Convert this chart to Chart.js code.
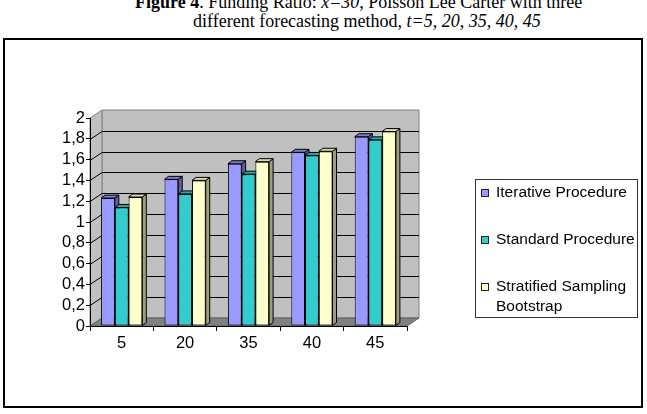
<!DOCTYPE html>
<html>
<head>
<meta charset="utf-8">
<script src="https://cdn.jsdelivr.net/npm/chart.js@4"></script>
<style>
  html, body { margin: 0; padding: 0; background: #fff; }
  body { width: 647px; height: 414px; position: relative; overflow: hidden; }
  .title { position: absolute; white-space: nowrap; font-family: "Liberation Serif", "Times New Roman", serif; font-size: 18px; line-height: 18px; color: #000; }
  .frame { position: absolute; left: 3px; top: 38px; width: 636px; height: 366px; border: 2px solid #000; background: #fff; }
  canvas { position: absolute; left: 0; top: 0; }
</style>
</head>
<body>
<div class="title" style="left:135px; top:-7px;"><b>Figure 4</b>. Funding Ratio: <i>x=30</i>, Poisson Lee Carter with three</div>
<div class="title" style="left:193px; top:12px;">different forecasting method, <i>t=5, 20, 35, 40, 45</i></div>
<div class="frame"></div>
<canvas class="js-chart" width="647" height="414"></canvas>
<script>
const ctx = document.querySelector(".js-chart").getContext("2d");

const horizons = ["5", "20", "35", "40", "45"];
const iterative = [1.23, 1.41, 1.56, 1.67, 1.82];
const standard = [1.14, 1.27, 1.46, 1.64, 1.79];
const stratified = [1.24, 1.40, 1.58, 1.68, 1.87];
const yTickLabels = ["0", "0,2", "0,4", "0,6", "0,8", "1", "1,2", "1,4", "1,6", "1,8", "2"];
const seriesNames = [["Iterative Procedure"], ["Standard Procedure"], ["Stratified Sampling", "Bootstrap"]];

const FONT = "'Liberation Sans', Arial, sans-serif";
const WALL_DX = 12;
const WALL_DY = -8;
const BAR_DX = 4;
const BAR_DY = -3;

// front / side / top colours for each series
const faces = [
  { front: "#9999ff", side: "#60609e", top: "#7b7bd0" },
  { front: "#33cccc", side: "#1f8a8a", top: "#29a8a8" },
  { front: "#ffffcc", side: "#9e9e7a", top: "#d8d8aa" },
];

function poly(c, pts, fill, stroke) {
  c.beginPath();
  c.moveTo(pts[0][0], pts[0][1]);
  for (let i = 1; i < pts.length; i++) c.lineTo(pts[i][0], pts[i][1]);
  c.closePath();
  if (fill) { c.fillStyle = fill; c.fill(); }
  if (stroke) { c.strokeStyle = stroke; c.lineWidth = 1; c.stroke(); }
}

const wallsPlugin = {
  id: "walls",
  beforeDraw(chart) {
    const c = chart.ctx;
    const { left: L, right: R, top: T, bottom: B } = chart.chartArea;
    const y = chart.scales.y;
    c.save();
    poly(c, [[L + WALL_DX, T + WALL_DY], [R + WALL_DX, T + WALL_DY], [R + WALL_DX, B + WALL_DY], [L + WALL_DX, B + WALL_DY]], "#c0c0c0", "#808080");
    poly(c, [[L, T], [L + WALL_DX, T + WALL_DY], [L + WALL_DX, B + WALL_DY], [L, B]], "#c0c0c0", "#808080");
    poly(c, [[L, B], [L + WALL_DX, B + WALL_DY], [R + WALL_DX, B + WALL_DY], [R, B]], "#808080", "#606060");
    c.strokeStyle = "#000";
    c.lineWidth = 1;
    y.ticks.forEach((t) => {
      if (t.value <= 0 || t.value >= 2) return;
      const py = Math.round(y.getPixelForValue(t.value)) + 0.5;
      c.beginPath();
      c.moveTo(L, py);
      c.lineTo(L + WALL_DX, py + WALL_DY);
      c.lineTo(R + WALL_DX, py + WALL_DY);
      c.stroke();
    });
    c.restore();
  },
  beforeDatasetsDraw(chart) {
    // side and top faces of every bar; the front faces are drawn by Chart.js
    const c = chart.ctx;
    c.save();
    const n = chart.data.labels.length;
    for (let i = 0; i < n; i++) {
      chart.data.datasets.forEach((ds, d) => {
        const bar = chart.getDatasetMeta(d).data[i];
        const { x, y, base, width } = bar.getProps(["x", "y", "base", "width"], true);
        const l = x - width / 2;
        const r = x + width / 2;
        poly(c, [[r, y], [r + BAR_DX, y + BAR_DY], [r + BAR_DX, base + BAR_DY], [r, base]], faces[d].side, "#000");
        poly(c, [[l, y], [l + BAR_DX, y + BAR_DY], [r + BAR_DX, y + BAR_DY], [r, y]], faces[d].top, "#000");
      });
    }
    c.restore();
  },
  afterDraw(chart) {
    // legend box
    const c = chart.ctx;
    c.save();
    c.strokeStyle = "#333";
    c.lineWidth = 1;
    c.strokeRect(475.5, 179.5, 162, 138);
    const rows = [193, 240, 287];
    c.font = "15.5px " + FONT;
    c.textBaseline = "middle";
    c.fillStyle = "#000";
    seriesNames.forEach((lines, d) => {
      c.fillStyle = faces[d].front;
      c.fillRect(481, rows[d] - 4, 8, 8);
      c.strokeStyle = "#222";
      c.strokeRect(481.5, rows[d] - 3.5, 7, 7);
      c.fillStyle = "#000";
      lines.forEach((txt, k) => c.fillText(txt, 496, rows[d] + k * 20));
    });
    c.restore();
  },
};

new Chart(ctx, {
  type: "bar",
  data: {
    labels: horizons,
    datasets: [iterative, standard, stratified].map((vals, d) => ({
      label: seriesNames[d].join(" "),
      data: vals,
      backgroundColor: faces[d].front,
      borderColor: "#000",
      borderWidth: 1,
      borderSkipped: false,
      categoryPercentage: 0.65,
      barPercentage: 1.0,
    })),
  },
  options: {
    responsive: false,
    animation: false,
    layout: { padding: { left: 50, top: 118, right: 240, bottom: 28 } },
    plugins: {
      legend: { display: false },
      title: { display: false },
      tooltip: { enabled: false },
    },
    scales: {
      x: {
        afterFit(scale) { scale.height = 60; },
        grid: { drawOnChartArea: false, drawTicks: true, tickLength: 5, tickColor: "#000", offset: true },
        border: { display: true, color: "#000", width: 1 },
        ticks: { color: "#000", font: { family: FONT, size: 16.5 }, padding: 3, maxRotation: 0 },
      },
      y: {
        min: 0,
        max: 2,
        afterFit(scale) { scale.width = 40; },
        grid: { drawOnChartArea: false, drawTicks: true, tickLength: 4, tickColor: "#000" },
        border: { display: true, color: "#000", width: 1 },
        ticks: {
          stepSize: 0.2,
          autoSkip: false,
          color: "#000",
          font: { family: FONT, size: 16.5 },
          padding: 1,
          callback(value, index) {
            return yTickLabels[index];
          },
        },
      },
    },
  },
  plugins: [wallsPlugin],
});
</script>
</body>
</html>
